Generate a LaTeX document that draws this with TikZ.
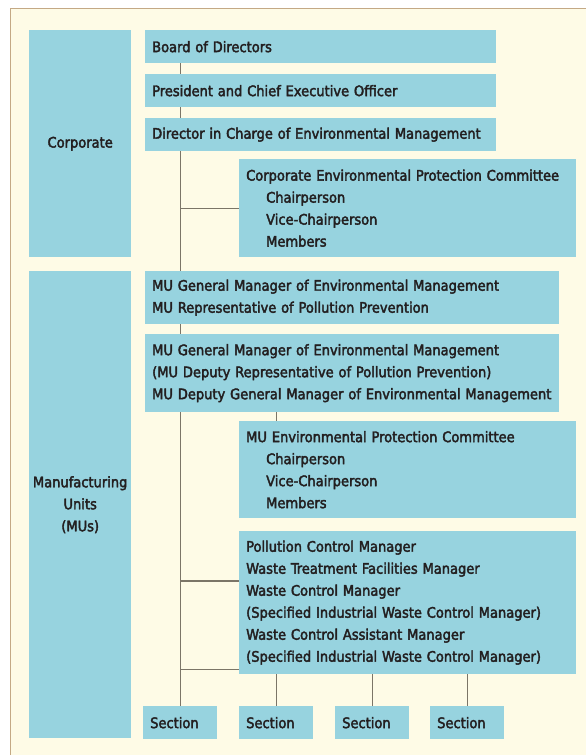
\documentclass[tikz,border=0pt]{standalone}
\usepackage{fontspec}
\setmainfont{DejaVu Sans Condensed}[FakeBold=2.6]
\usetikzlibrary{positioning,calc}

\definecolor{paper}{HTML}{FEFBE6}
\definecolor{rim}{HTML}{C4A985}
\definecolor{boxblue}{HTML}{97D3DF}
\definecolor{ink}{HTML}{231F20}
\definecolor{wire}{HTML}{7B7567}

\tikzset{
  box/.style={fill=boxblue, text=ink, anchor=north west, inner xsep=7pt, inner ysep=0pt,
    align=left, font=\fontsize{14.5}{22}\selectfont},
  side/.style={box, align=center, inner xsep=2pt, text width=98pt},
  secbox/.style={box, text width=60pt, minimum height=33pt},
  conn/.style={draw=wire, line width=1.3pt},
}

\begin{document}
\begin{tikzpicture}[x=1pt,y=-1pt]
    \useasboundingbox (0,0) rectangle (586,755);
    \clip (0,0) rectangle (586,755);
    \draw[rim, line width=1pt, fill=paper] (10.5,8.5) rectangle (600,770);

    % left column
    \node[side, minimum height=227pt] (corp) at (29,30) {Corporate};
    \node[side, minimum height=467pt] (mus) at (29,271) {Manufacturing\\Units\\(MUs)};

    % corporate chain
    \node[box, text width=337pt, minimum height=33pt] (board) at (145,30) {Board of Directors};
    \node[box, text width=337pt, minimum height=33pt] (president) at (145,74) {President and Chief Executive Officer};
    \node[box, text width=337pt, minimum height=33pt] (director) at (145,118) {Director in Charge of Environmental Management};
    \node[box, text width=323pt, minimum height=98pt] (committee) at (239,159)
        {Corporate Environmental Protection Committee\\
         \hspace*{20pt}Chairperson\\
         \hspace*{20pt}Vice-Chairperson\\
         \hspace*{20pt}Members};

    % manufacturing units
    \node[box, text width=400pt, minimum height=53pt] (mugmA) at (145,271)
        {MU General Manager of Environmental Management\\
         MU Representative of Pollution Prevention};
    \node[box, text width=400pt, minimum height=78pt] (mugmB) at (145,334)
        {MU General Manager of Environmental Management\\
         (MU Deputy Representative of Pollution Prevention)\\
         MU Deputy General Manager of Environmental Management};
    \node[box, text width=323pt, minimum height=97pt] (muepc) at (239,421)
        {MU Environmental Protection Committee\\
         \hspace*{20pt}Chairperson\\
         \hspace*{20pt}Vice-Chairperson\\
         \hspace*{20pt}Members};
    \node[box, text width=323pt, minimum height=143pt] (pollution) at (239,531)
        {Pollution Control Manager\\
         Waste Treatment Facilities Manager\\
         Waste Control Manager\\
         (Specified Industrial Waste Control Manager)\\
         Waste Control Assistant Manager\\
         (Specified Industrial Waste Control Manager)};

    % sections
    \node[secbox] (secA) at (143,706) {Section};
    \node[secbox] (secB) at (239,706) {Section};
    \node[secbox] (secC) at (335,706) {Section};
    \node[secbox] (secD) at (430,706) {Section};

    % connectors
    \foreach \a/\b in {board/president, president/director, director/mugmA, mugmA/mugmB, mugmB/secA}
        \draw[conn] (\a.south -| secA) -- (\b.north -| secA);
    \draw[conn] (committee.west) -- (committee.west -| secA);
    \draw[conn] (mugmB.south -| secB) -- (muepc.north -| secB);
    \coordinate (pollA) at ($(pollution.north west)+(0,50)$);
    \coordinate (pollB) at ($(pollution.south west)+(0,-5)$);
    \draw[conn] (pollA) -- (pollA -| secA);
    \draw[conn] (pollB) -- (pollB -| secA);
    \foreach \s in {secB,secC,secD}
        \draw[conn] (pollution.south -| \s) -- (\s.north);
\end{tikzpicture}
\end{document}
